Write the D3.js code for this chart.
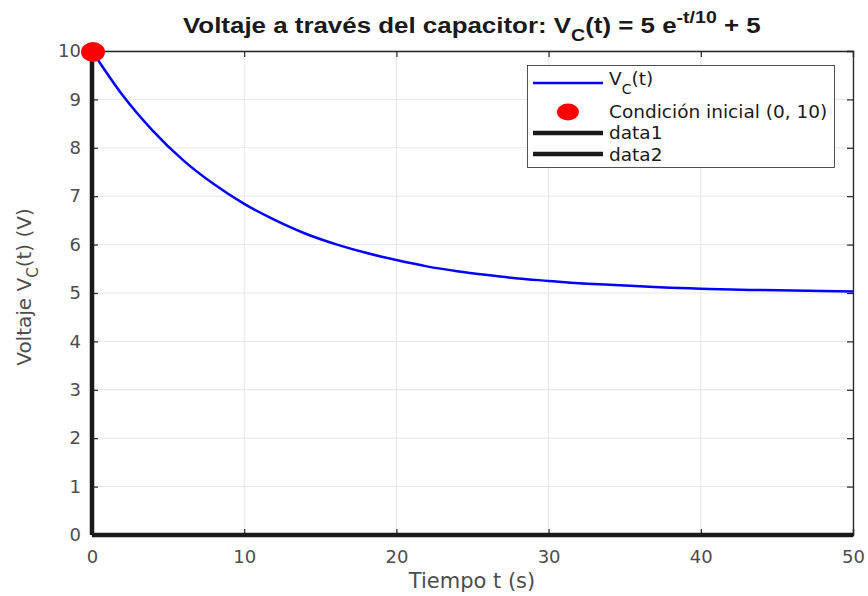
<!DOCTYPE html>
<html><head><meta charset="utf-8">
<script src="https://cdn.jsdelivr.net/npm/d3@7"></script>
<style>body{margin:0;background:#fff}svg{display:block}text{font-family:"DejaVu Sans",sans-serif}</style>
</head><body><svg id="c" width="868" height="596"></svg>
<script>
const tValues = [0,2,4,6,8,10,12,14,16,18,20,22,24,26,28,30,32,34,36,38,40,42,44,46,48,50];
const vValues = [10,9.09,8.35,7.74,7.25,6.84,6.51,6.23,6.01,5.83,5.68,5.55,5.45,5.37,5.30,5.25,5.20,5.17,5.14,5.11,5.09,5.07,5.06,5.05,5.04,5.03];
const xTicks = [0,10,20,30,40,50];
const yTicks = [0,1,2,3,4,5,6,7,8,9,10];
const initialPoint = [0,10];
const data1 = [[0,0],[0,10]];
const data2 = [[0,0],[50,0]];
const legendLabels = ["V_C(t)","Condición inicial (0, 10)","data1","data2"];

const svg = d3.select("#c");
const L=92,R=853,T=51,B=535;
const x = d3.scaleLinear().domain([0,50]).range([L,R]);
const y = d3.scaleLinear().domain([0,10]).range([B,T]);
const axisCol="#262626";

// grid
svg.append("g").selectAll("line").data(xTicks).join("line")
  .attr("x1",d=>x(d)).attr("x2",d=>x(d)).attr("y1",T).attr("y2",B)
  .attr("stroke","#e6e6e6").attr("stroke-width",1);
svg.append("g").selectAll("line").data(yTicks).join("line")
  .attr("y1",d=>y(d)).attr("y2",d=>y(d)).attr("x1",L).attr("x2",R)
  .attr("stroke","#e6e6e6").attr("stroke-width",1);

// axes
const gx = svg.append("g").attr("transform",`translate(0,${B})`)
  .call(d3.axisBottom(x).tickValues(xTicks).tickSize(-6).tickPadding(15).tickFormat(d3.format("d")));
const gxt = svg.append("g").attr("transform",`translate(0,${T})`)
  .call(d3.axisTop(x).tickValues(xTicks).tickSize(-6).tickFormat(""));
const gy = svg.append("g").attr("transform",`translate(${L},0)`)
  .call(d3.axisLeft(y).tickValues(yTicks).tickSize(-6).tickPadding(11).tickFormat(d3.format("d")));
const gyr = svg.append("g").attr("transform",`translate(${R},0)`)
  .call(d3.axisRight(y).tickValues(yTicks).tickSize(-6).tickFormat(""));
[gx,gxt,gy,gyr].forEach(g=>{
  g.select(".domain").attr("stroke",axisCol).attr("stroke-width",1.3);
  g.selectAll(".tick line").attr("stroke",axisCol).attr("stroke-width",1.2);
  g.selectAll(".tick text").attr("fill","#4d4d4d").attr("font-size",18).attr("font-family","DejaVu Sans");
});

// data1, data2 black lines
const ln = d3.line().x(d=>x(d[0])).y(d=>y(d[1]));
svg.append("path").datum(data1).attr("d",ln).attr("stroke","#1a1a1a").attr("stroke-width",4.5).attr("fill","none");
svg.append("path").datum(data2).attr("d",ln).attr("stroke","#1a1a1a").attr("stroke-width",4.5).attr("fill","none");

// curve
const curve = d3.line().x((d,i)=>x(tValues[i])).y(d=>y(d)).curve(d3.curveMonotoneX);
svg.append("path").datum(vValues).attr("d",curve).attr("stroke","#0000ff").attr("stroke-width",2.5).attr("fill","none");

// initial point
svg.append("ellipse").attr("cx",x(initialPoint[0])+1).attr("cy",y(initialPoint[1])+1).attr("rx",12).attr("ry",10).attr("fill","#ff0000");

// fit helper: horizontally scale a text to span [x0,x1]
function fit(sel,x0,x1){
  const bb = sel.node().getBBox();
  const s = (x1-x0)/bb.width;
  sel.attr("transform",`translate(${x0},0) scale(${s},1) translate(${-bb.x},0)`);
}

// title
const title = svg.append("text").attr("x",0).attr("y",33)
  .attr("font-size",22.5).attr("font-weight","bold").attr("fill","#1a1a1a")
  .style("font-family","'Liberation Sans',Arial,sans-serif");
title.append("tspan").text("Voltaje a través del capacitor: V");
title.append("tspan").attr("dy",8).attr("font-size",17).text("C");
title.append("tspan").attr("dy",-8).text("(t) = 5 e");
title.append("tspan").attr("dy",-10).attr("font-size",17).text("-t/10");
title.append("tspan").attr("dy",10).text(" + 5");
fit(title,183,761);

// x label
svg.append("text").attr("x",472).attr("y",588).attr("text-anchor","middle")
  .attr("font-size",21).attr("fill","#4d4d4d").text("Tiempo t (s)");
// y label
const yl = svg.append("text").attr("transform","translate(31,287) rotate(-90)").attr("text-anchor","middle")
  .attr("font-size",20).attr("fill","#4d4d4d");
yl.append("tspan").text("Voltaje V");
yl.append("tspan").attr("dy",7).attr("font-size",15).text("C");
yl.append("tspan").attr("dy",-7).text("(t) (V)");

// legend
const lg = svg.append("g");
lg.append("rect").attr("x",527.5).attr("y",65.5).attr("width",307).attr("height",102)
  .attr("fill","#fff").attr("stroke","#262626").attr("stroke-width",0.8);
const lineRows=[83,112,133,154];
lg.append("line").attr("x1",533).attr("x2",603).attr("y1",lineRows[0]).attr("y2",lineRows[0]).attr("stroke","#0000ff").attr("stroke-width",2.5);
lg.append("ellipse").attr("cx",568).attr("cy",lineRows[1]).attr("rx",11).attr("ry",8.5).attr("fill","#ff0000");
lg.append("line").attr("x1",533).attr("x2",603).attr("y1",lineRows[2]).attr("y2",lineRows[2]).attr("stroke","#1a1a1a").attr("stroke-width",4.5);
lg.append("line").attr("x1",533).attr("x2",603).attr("y1",lineRows[3]).attr("y2",lineRows[3]).attr("stroke","#1a1a1a").attr("stroke-width",4.5);
const t0 = lg.append("text").attr("x",609).attr("y",85).attr("font-size",18.5).attr("fill","#1a1a1a");
t0.append("tspan").text("V");
t0.append("tspan").attr("dy",9).attr("font-size",14).text("C");
t0.append("tspan").attr("dy",-9).text("(t)");
const textBase=[118,139,161];
legendLabels.slice(1).forEach((s,i)=>{
  lg.append("text").attr("x",609).attr("y",textBase[i]).attr("font-size",18.5).attr("fill","#1a1a1a").text(s);
});
</script></body></html>
